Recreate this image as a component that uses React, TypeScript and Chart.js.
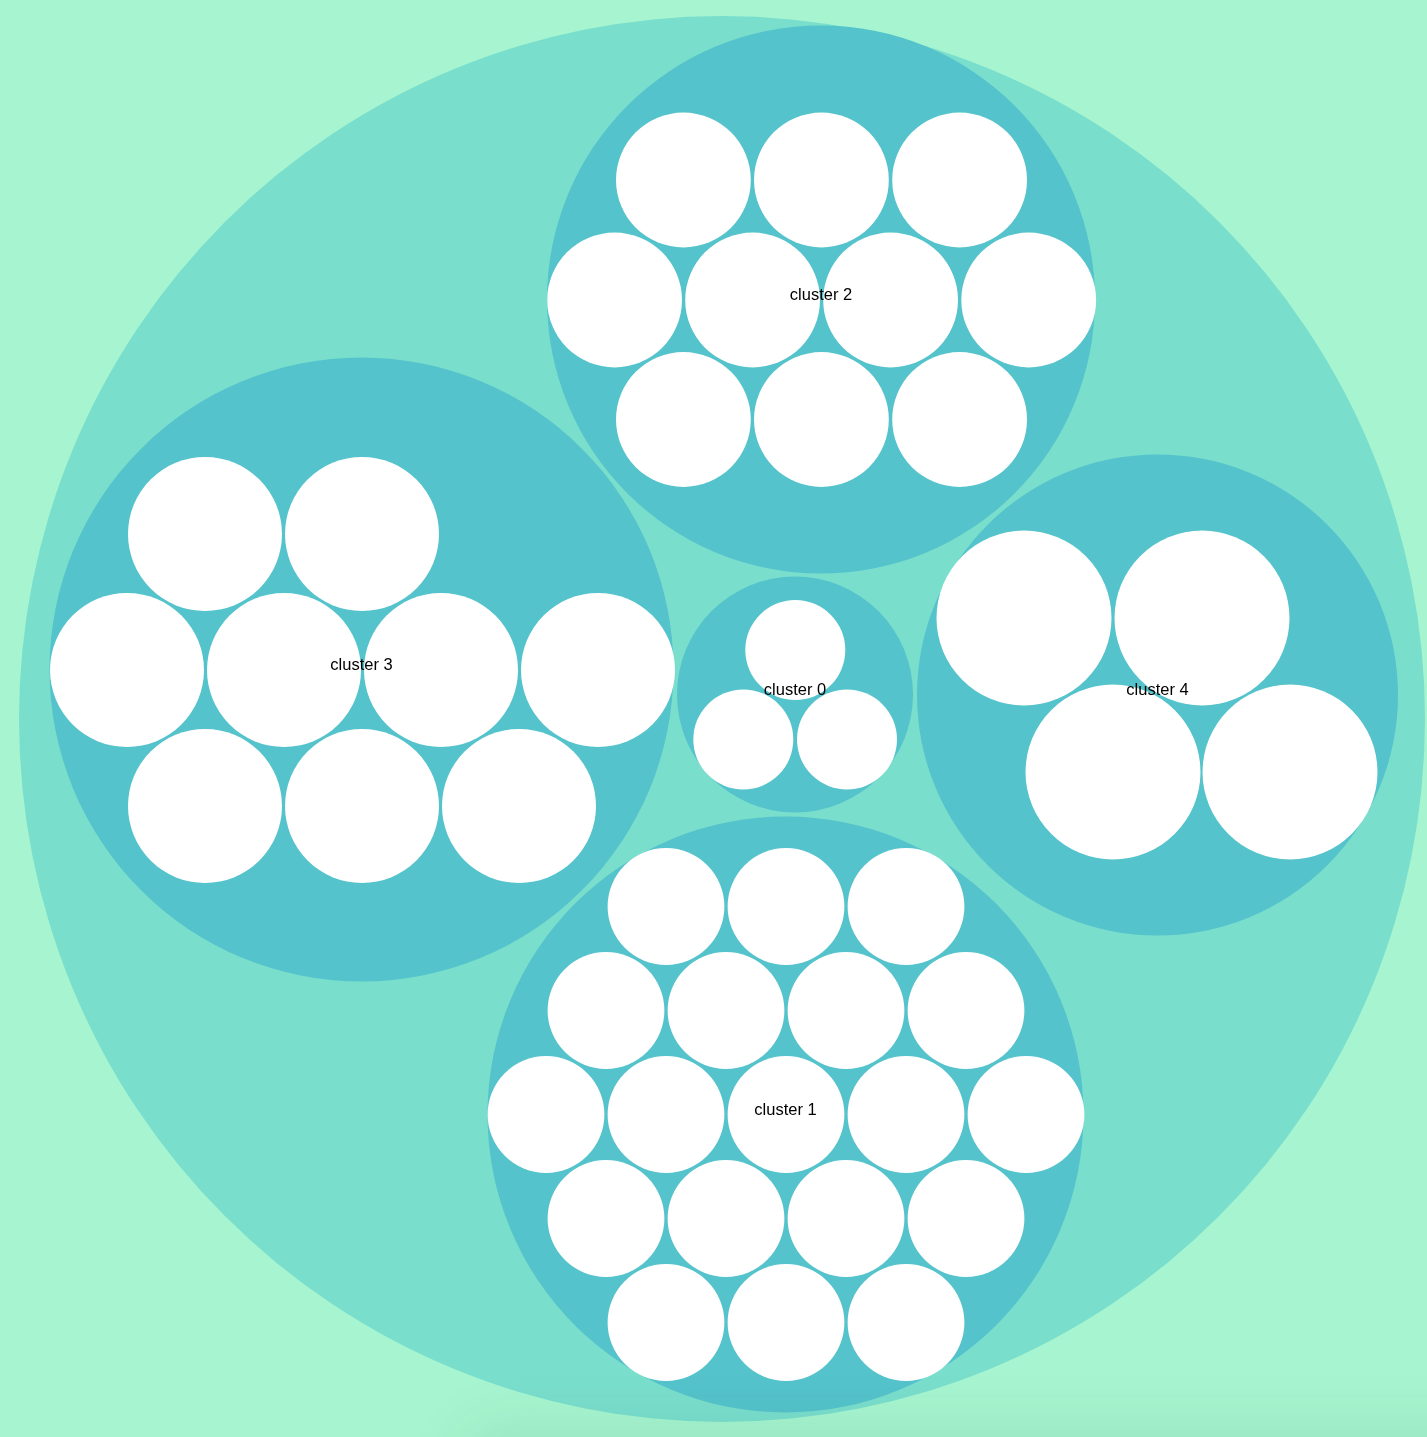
import React, { useEffect, useRef } from "react";
import { Chart, registerables } from "chart.js";

Chart.register(...registerables);

// Root (outer) circle
const rootX = [722];
const rootY = [719];
const rootR = [703];

// Cluster circles
const clusterNames = ["cluster 0", "cluster 1", "cluster 2", "cluster 3", "cluster 4"];
const clusterX = [795, 785.5, 821, 361.5, 1157.5];
const clusterY = [694.5, 1114.5, 299.5, 669.5, 695];
const clusterR = [118, 298, 274, 312, 240.5];

// Leaf circles per cluster
const leafX0 = [795.3, 743.3, 847];
const leafY0 = [650, 739.5, 739.5];

const leafX1 = [666, 786, 906, 606, 726, 846, 966, 546, 666, 786, 906, 1026, 606, 726, 846, 966, 666, 786, 906];
const leafY1 = [906.5, 906.5, 906.5, 1010.5, 1010.5, 1010.5, 1010.5, 1114.5, 1114.5, 1114.5, 1114.5, 1114.5, 1218.5, 1218.5, 1218.5, 1218.5, 1322.5, 1322.5, 1322.5];

const leafX2 = [683.4, 821.4, 959.6, 614.6, 752.6, 890.6, 1028.7, 683.4, 821.4, 959.6];
const leafY2 = [180, 180, 180, 300, 300, 300, 300, 419.5, 419.5, 419.5];

const leafX3 = [205, 362, 127, 284, 441, 598, 205, 362, 519];
const leafY3 = [534, 534, 670, 670, 670, 670, 806, 806, 806];

const leafX4 = [1024, 1202, 1113, 1290];
const leafY4 = [618, 618, 772, 772];

const leafR = [50, 58.4, 67.4, 77, 87.5];

const W = 1427;
const H = 1437;

type Pt = { x: number; y: number; size: number };

const pts = (xs: number[], ys: number[], rs: number[] | number): Pt[] =>
  xs.map((x, i) => ({ x, y: ys[i], size: Array.isArray(rs) ? rs[i] : rs }));

const radiusFromScale = (ctx: any) => {
  const raw = ctx.raw as Pt | undefined;
  if (!raw) return 0;
  const xs = ctx.chart.scales.x;
  return Math.abs(xs.getPixelForValue(raw.size) - xs.getPixelForValue(0));
};

const labelPlugin = {
  id: "clusterLabels",
  afterDatasetsDraw(chart: any) {
    const { ctx, scales } = chart;
    ctx.save();
    ctx.font = '16.5px "Liberation Sans", Arial, Helvetica, sans-serif';
    ctx.textAlign = "center";
    ctx.textBaseline = "alphabetic";
    ctx.fillStyle = "#000";
    clusterNames.forEach((name, i) => {
      const px = scales.x.getPixelForValue(clusterX[i]);
      const py = scales.y.getPixelForValue(clusterY[i]);
      ctx.fillText(name, px, py);
    });
    ctx.restore();
  },
};

const bgPlugin = {
  id: "bgShade",
  beforeDraw(chart: any) {
    const { ctx, width, height } = chart;
    ctx.save();
    ctx.fillStyle = "#a6f5d0";
    ctx.fillRect(0, 0, width, height);
    ctx.restore();
  },
  afterDraw(chart: any) {
    const { ctx, width, height } = chart;
    ctx.save();
    ctx.shadowColor = "rgba(0,70,40,0.10)";
    ctx.shadowBlur = 60;
    ctx.shadowOffsetX = 0;
    ctx.shadowOffsetY = -75;
    ctx.fillStyle = "rgba(0,70,40,1)";
    ctx.fillRect(470, height + 70, width + 200, 200);
    ctx.restore();
  },
};

export default function App() {
  const ref = useRef<HTMLCanvasElement | null>(null);

  useEffect(() => {
    document.body.style.margin = "0";
    document.body.style.background = "#a6f5d0";
    const canvas = ref.current;
    if (!canvas) return;

    const leafData: Pt[] = [
      ...pts(leafX0, leafY0, leafR[0]),
      ...pts(leafX1, leafY1, leafR[1]),
      ...pts(leafX2, leafY2, leafR[2]),
      ...pts(leafX3, leafY3, leafR[3]),
      ...pts(leafX4, leafY4, leafR[4]),
    ];

    const chart = new Chart(canvas, {
      type: "scatter",
      data: {
        datasets: [
          {
            label: "root",
            order: 3,
            data: pts(rootX, rootY, rootR),
            backgroundColor: "#7adecd",
            borderWidth: 0,
            pointRadius: radiusFromScale,
            pointHoverRadius: radiusFromScale,
            clip: false,
          },
          {
            label: "clusters",
            order: 2,
            data: pts(clusterX, clusterY, clusterR),
            backgroundColor: "#54c3cb",
            borderWidth: 0,
            pointRadius: radiusFromScale,
            pointHoverRadius: radiusFromScale,
            clip: false,
          },
          {
            label: "leaves",
            order: 1,
            data: leafData,
            backgroundColor: "#ffffff",
            borderWidth: 0,
            pointRadius: radiusFromScale,
            pointHoverRadius: radiusFromScale,
            clip: false,
          },
        ],
      } as any,
      options: {
        animation: false,
        responsive: false,
        devicePixelRatio: 1,
        events: [],
        layout: { padding: 0 },
        plugins: {
          legend: { display: false },
          tooltip: { enabled: false },
        },
        scales: {
          x: { type: "linear", display: false, min: 0, max: W },
          y: { type: "linear", display: false, min: 0, max: H, reverse: true },
        },
      } as any,
      plugins: [bgPlugin, labelPlugin],
    });

    return () => chart.destroy();
  }, []);

  return (
    <canvas
      ref={ref}
      width={W}
      height={H}
      style={{ display: "block", width: W, height: H }}
    />
  );
}
